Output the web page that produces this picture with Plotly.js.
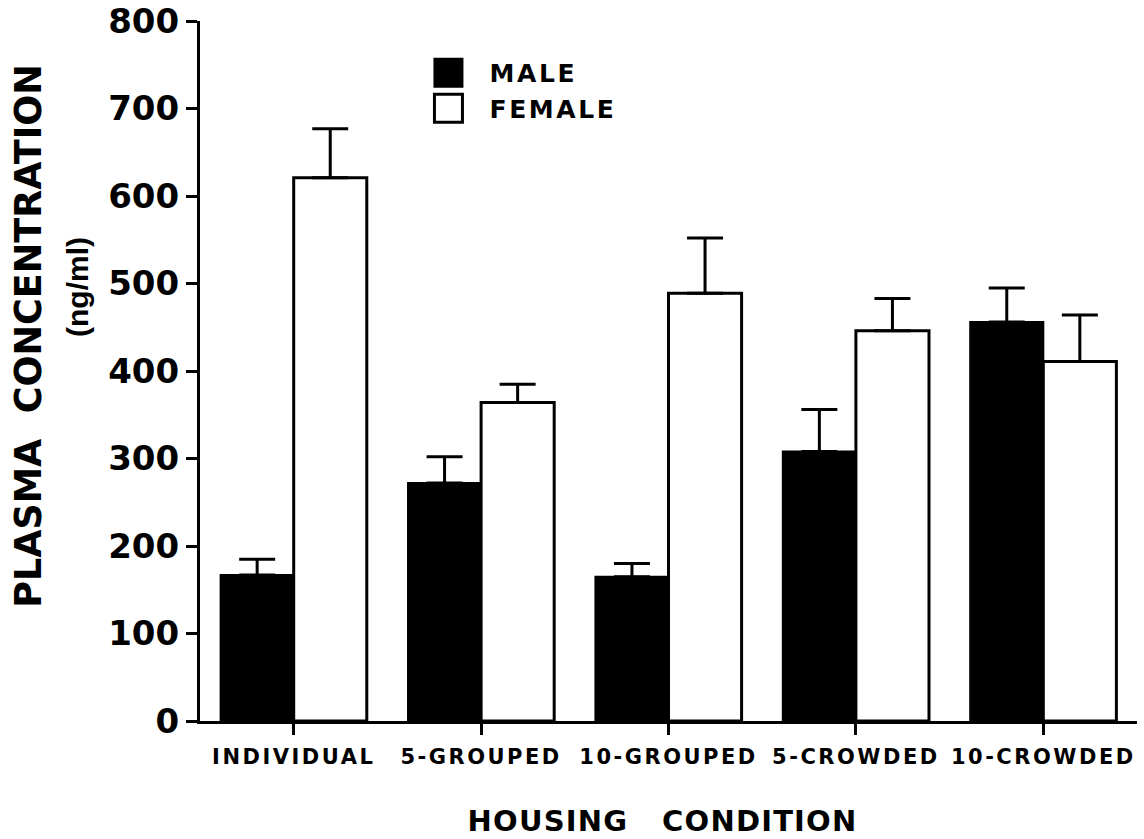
<!DOCTYPE html>
<html><head><meta charset="utf-8">
<script src="https://cdn.plot.ly/plotly-3.0.1.min.js"></script>
<style>
html,body{margin:0;padding:0;background:#fff;}
#chart{width:1144px;height:839px;}
.xtick text{letter-spacing:2.5px;}
.g-xtitle text{letter-spacing:1.2px;}
.g-xtitle{transform:translate(-6px,0px);}
.g-ytitle{transform:translate(-26px,-35px);}
.legendtext{letter-spacing:2.6px;}
</style></head><body><div id="chart"></div>
<script>
const categories = ['INDIVIDUAL', '5-GROUPED', '10-GROUPED', '5-CROWDED', '10-CROWDED'];
const maleMeans = [167, 272, 165, 308, 456];
const maleErr = [18, 30, 15, 48, 39];
const femaleMeans = [621, 364, 489, 446, 411];
const femaleErr = [56, 21, 63, 37, 53];
const seriesNames = ['MALE', 'FEMALE'];
const yTickVals = [0, 100, 200, 300, 400, 500, 600, 700, 800];
const yTitle = 'PLASMA\u00A0\u00A0CONCENTRATION';
const yUnit = '(ng/ml)';
const xTitle = 'HOUSING\u00A0\u00A0\u00A0CONDITION';

const FONT = 'DejaVu Sans';
function errBar(vals) {
  return {type: 'data', symmetric: false, array: vals, arrayminus: vals.map(() => 0),
          color: '#000', thickness: 3, width: 18, visible: true};
}
const traces = [
  {type: 'bar', name: seriesNames[0], x: categories, y: maleMeans,
   marker: {color: '#000', line: {color: '#000', width: 2}},
   error_y: errBar(maleErr), hoverinfo: 'none'},
  {type: 'bar', name: seriesNames[1], x: categories, y: femaleMeans,
   marker: {color: '#fff', line: {color: '#000', width: 3}},
   error_y: errBar(femaleErr), hoverinfo: 'none'}
];
const layout = {
  width: 1144, height: 839,
  margin: {l: 200, r: 7, t: 21, b: 118, pad: 0},
  paper_bgcolor: '#fff', plot_bgcolor: '#fff',
  barmode: 'group', bargap: 0.22, bargroupgap: 0,
  font: {family: FONT, color: '#000', weight: 'bold'},
  showlegend: true,
  legend: {x: 0.2214, y: 0.9586, xanchor: 'left', yanchor: 'top', bgcolor: 'rgba(0,0,0,0)',
           font: {family: FONT, size: 25, weight: 'bold', color: '#000'},
           itemwidth: 72, tracegroupgap: 0, traceorder: 'normal'},
  xaxis: {type: 'category', range: [-0.5, 4.5], showline: true, linewidth: 3, linecolor: '#000',
          ticks: 'outside', ticklen: 11, tickwidth: 3, tickcolor: '#000', showgrid: false, zeroline: false,
          ticklabelstandoff: 4,
          tickfont: {family: FONT, size: 21, weight: 'bold'},
          title: {text: xTitle, font: {family: FONT, size: 29, weight: 'bold'}, standoff: 43}},
  yaxis: {range: [0, 800], tickvals: yTickVals, showline: true, linewidth: 3, linecolor: '#000',
          ticks: 'outside', ticklen: 11, tickwidth: 3, tickcolor: '#000', showgrid: false, zeroline: false,
          tickfont: {family: FONT, size: 34, weight: 'bold'},
          title: {text: yTitle, font: {family: FONT, size: 36.5, weight: 'bold'}, standoff: 30}},
  annotations: [
    {text: yUnit, xref: 'paper', yref: 'paper', x: (77 - 200) / 937, y: (721 - 287) / 700,
     xanchor: 'center', yanchor: 'middle', textangle: -90, showarrow: false,
     font: {family: 'Liberation Sans', size: 30, weight: 'bold', color: '#000'}}
  ]
};
Plotly.newPlot('chart', traces, layout, {displayModeBar: false, staticPlot: true}).then(function(gd) {
  gd.querySelectorAll('.legend .legendpoints path').forEach(function(p) {
    p.setAttribute('d', 'M14,14H-14V-14H14Z');
  });
});
</script></body></html>
